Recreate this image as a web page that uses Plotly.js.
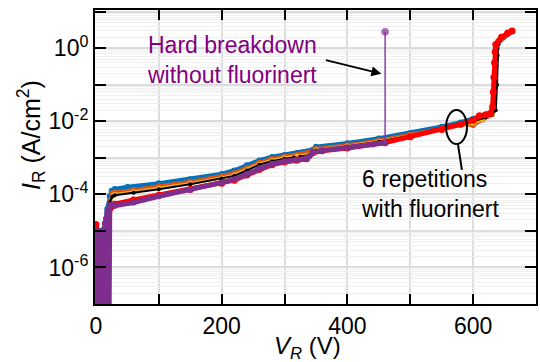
<!DOCTYPE html>
<html>
<head>
<meta charset="utf-8">
<script src="https://cdn.plot.ly/plotly-3.0.1.min.js"></script>
<style>html,body{margin:0;padding:0;background:#fff;}#chart{width:540px;height:362px;}</style>
</head>
<body>
<div id="chart"></div>
<script>
// Reverse voltage (V) and reverse current density (A/cm^2) for each repetition
const blueV = [0,3,6,9,12,14,18,22,25,30,50,100,150,200,220,240,260,280,300,320,340,345,350,400,450,500,550,580,600,615,625,632,634,636,637,640,655,660];
const blueI = [5e-6,2.5e-6,6e-6,3e-6,8e-6,1.1e-5,4e-5,9e-5,1.25e-4,1.4e-4,1.6e-4,2e-4,2.6e-4,3.6e-4,4.5e-4,6.3e-4,8.5e-4,1.05e-3,1.2e-3,1.35e-3,1.5e-3,1.66e-3,2e-3,2.5e-3,3.4e-3,4.8e-3,7.1e-3,9.3e-3,1.17e-2,1.4e-2,1.6e-2,2e-2,0.1,0.5,1,1.4,2.5,2.8];

const orangeV = [0,3,6,9,10,12,13,15,18,22,26,30,60,100,150,200,220,240,260,280,300,320,340,345,350,400,450,500,550,580,600,615,625,630,633,635,637,640,655,661];
const orangeI = [3.2e-6,1e-6,5e-6,1.6e-7,1e-5,5e-8,4e-6,5e-8,2e-5,6e-5,1.05e-4,1.12e-4,1.32e-4,1.66e-4,2.2e-4,3.2e-4,3.8e-4,5.2e-4,7.4e-4,9.3e-4,1.07e-3,1.2e-3,1.38e-3,1.51e-3,1.74e-3,2.2e-3,3e-3,4.3e-3,6.3e-3,8.3e-3,7.9e-3,1.12e-2,1.41e-2,1.58e-2,6.3e-2,0.32,1.0,1.58,2.6,2.95];

const yellowV = [0,3,6,9,11,12,14,16,17,19,23,27,30,60,100,150,200,220,240,260,280,300,320,340,345,350,400,450,500,550,580,600,615,625,631,634,636,638,645,655,662];
const yellowI = [1.6e-6,2.5e-7,4e-6,1e-6,5e-8,2.5e-6,3.2e-7,8e-6,5e-8,2e-5,5.6e-5,9.5e-5,1e-4,1.17e-4,1.48e-4,2e-4,2.8e-4,3.4e-4,4.7e-4,6.8e-4,8.5e-4,1e-3,1.12e-3,1.26e-3,1.45e-3,1.66e-3,2.1e-3,2.8e-3,4e-3,6e-3,7.9e-3,8.9e-3,1.12e-2,1.41e-2,1.58e-2,0.1,0.5,1.12,1.78,2.5,2.95];

const blackV = [0,2,4,6,8,10,12,15,18,22,26,30,60,100,150,200,220,240,260,280,300,315,318,325,340,345,350,400,450,500,550,580,600,620,630,636,638,639,640,650,660];
const blackI = [1.4e-5,1.2e-5,1.6e-6,4e-6,8e-7,2.5e-6,8e-6,1.2e-5,3e-5,6e-5,8.7e-5,9.5e-5,1.1e-4,1.38e-4,1.9e-4,2.7e-4,3.2e-4,4.5e-4,6.5e-4,8.1e-4,9.5e-4,1.02e-3,7.9e-4,1.07e-3,1.2e-3,1.41e-3,1.58e-3,2e-3,2.75e-3,4e-3,5.9e-3,7.9e-3,1e-2,1.26e-2,1.51e-2,2e-2,0.1,0.63,1.26,2.2,2.8];

const redV = [0,2,4,6,8,10,12,14,16,18,20,24,28,30,60,100,150,200,220,240,260,280,300,320,335,345,360,400,460,500,550,580,600,610,620,628,631,632,633,634,635,636,645,655,662];
const redI = [1.5e-5,3.2e-6,6.3e-7,2.5e-6,3.2e-7,1.6e-6,1e-6,6.3e-6,5e-7,1e-5,2.5e-5,4.5e-5,5e-5,5.4e-5,7e-5,9.5e-5,1.35e-4,2e-4,2.45e-4,3.4e-4,4.9e-4,6.5e-4,7.7e-4,8.7e-4,9.4e-4,1.38e-3,1.55e-3,1.85e-3,2.6e-3,3.8e-3,6e-3,8.3e-3,1.07e-2,1.41e-2,1.51e-2,1.66e-2,2.5e-2,6.3e-2,0.16,0.4,0.8,1.26,2.0,2.6,2.95];

const purpleV = [0,1,2,3,4,5,6,7,8,9,10,11,12,13,14,15,16,17,18,19,20,21,22,24,27,30,60,100,150,200,220,240,260,280,300,320,335,340,345,360,400,440,460];
const purpleI = [1e-5,6.3e-8,7.9e-6,1.26e-7,1e-5,6.3e-8,6.3e-6,1.6e-7,1e-5,6.3e-8,7.9e-6,1.26e-7,1.1e-5,6.3e-8,1.6e-5,7.9e-8,2.2e-5,6.3e-8,3.2e-5,1e-7,4e-5,6.3e-8,5e-5,5.2e-5,5.2e-5,4.9e-5,6e-5,8.9e-5,1.32e-4,2.1e-4,2.6e-4,3.6e-4,5.2e-4,6.8e-4,7.9e-4,8.9e-4,9.8e-4,1.12e-3,1.41e-3,1.58e-3,1.9e-3,2.3e-3,2.6e-3];

// Hard breakdown without fluorinert
const breakdownV = [460, 460];
const breakdownI = [2.6e-3, 2.8];

const xTickVals = [0,200,400,600];
const xTickText = ['0','200','400','600'];
const yTickVals = [1e-6,1e-4,1e-2,1];
const yTickText = ['10<sup>-6</sup>','10<sup>-4</sup>','10<sup>-2</sup>','10<sup>0</sup>'];
const yOddDecades = [1e-7,1e-5,1e-3,1e-1,10];

const minorVals = [];
for (let e = -7; e <= 1; e++) {
  for (let m = 2; m <= 9; m++) minorVals.push(m * Math.pow(10, e));
}

function series(x, y, color, w, s) {
  return {
    x: x, y: y, type: 'scatter', mode: 'lines+markers',
    line: {color: color, width: w},
    marker: {color: color, size: s},
    hoverinfo: 'skip', showlegend: false
  };
}

const traces = [
  series(blueV, blueI, '#0072BD', 4.5, 6),
  series(orangeV, orangeI, '#D95319', 4, 6),
  series(yellowV, yellowI, '#EDB120', 3, 5),
  series(blackV, blackI, '#000000', 2, 4),
  series(redV, redI, '#FF0000', 5, 7),
  series(purpleV, purpleI, '#7E2F8E', 5, 6),
  {
    x: breakdownV, y: breakdownI, type: 'scatter', mode: 'lines+markers',
    line: {color: '#8A3FA8', width: 1.5},
    marker: {color: '#7E2F8E', size: [0, 7]},
    showlegend: false, hoverinfo: 'skip'
  },
  {
    x: [], y: [], yaxis: 'y2', type: 'scatter', showlegend: false, hoverinfo: 'skip'
  }
];

const font = 'Arial, "Liberation Sans", Helvetica, sans-serif';

const layout = {
  width: 540, height: 362,
  margin: {l: 95, r: 4, t: 10, b: 58},
  paper_bgcolor: '#ffffff', plot_bgcolor: '#ffffff',
  font: {family: font, size: 22, color: '#000'},
  showlegend: false,
  xaxis: {
    range: [-1.5, 700],
    tickmode: 'array', tickvals: xTickVals, ticktext: xTickText,
    ticks: 'inside', ticklen: 10, tickwidth: 2, tickcolor: '#000',
    showline: true, linecolor: '#000', linewidth: 2, mirror: 'ticks',
    showgrid: true, gridcolor: '#dcdcdc', gridwidth: 2,
    minor: {dtick: 100, tick0: 0, ticks: 'inside', ticklen: 10, tickwidth: 2, tickcolor: '#000',
            showgrid: true, gridcolor: '#dcdcdc', gridwidth: 2},
    zeroline: false,
    tickfont: {family: font, size: 23, color: '#000'}
  },
  yaxis: {
    type: 'log', range: [-7, 1.045],
    tickmode: 'array', tickvals: yTickVals, ticktext: yTickText,
    ticks: 'inside', ticklen: 11, tickwidth: 2, tickcolor: '#000',
    showline: true, linecolor: '#000', linewidth: 2, mirror: 'ticks',
    showgrid: true, gridcolor: '#dcdcdc', gridwidth: 2,
    zeroline: false,
    tickfont: {family: font, size: 23, color: '#000'},
    minor: {tickvals: yOddDecades, ticks: 'inside', ticklen: 11, tickwidth: 2, tickcolor: '#000',
            showgrid: true, gridcolor: '#dcdcdc', gridwidth: 2}
  },
  yaxis2: {
    type: 'log', range: [-7, 1.045], overlaying: 'y', side: 'left',
    tickmode: 'array', tickvals: minorVals, showticklabels: false, ticks: '',
    showgrid: true, gridcolor: '#efefef', gridwidth: 1, showline: false, zeroline: false,
    layer: 'below traces'
  },
  annotations: [
    {
      xref: 'paper', yref: 'paper', x: -0.145, y: 0.575, xanchor: 'center', yanchor: 'middle',
      text: '<i>I</i><sub>R</sub> (A/cm<sup>2</sup>)', textangle: -90,
      showarrow: false, font: {family: font, size: 25, color: '#000'}
    },
    {
      xref: 'paper', yref: 'paper', x: 0.481, y: -0.148, xanchor: 'center', yanchor: 'middle',
      text: '<i>V</i><sub><i>R</i></sub> (V)',
      showarrow: false, font: {family: font, size: 24, color: '#000'}
    },
    {
      xref: 'x', yref: 'y', x: 217, y: -0.32,
      text: 'Hard breakdown<br>without fluorinert', showarrow: false,
      font: {family: font, size: 23, color: '#800080'}
    },
    {
      xref: 'x', yref: 'y', x: 454, y: -0.70, ax: -57, ay: -14,
      text: '', showarrow: true, arrowhead: 2, arrowsize: 1, arrowwidth: 2, arrowcolor: '#000'
    },
    {
      xref: 'x', yref: 'y', x: 419, y: -4.0, xanchor: 'left', align: 'left',
      text: '6 repetitions<br>with fluorinert', showarrow: false,
      font: {family: font, size: 23, color: '#000'}
    }
  ],
  shapes: [
    {type: 'circle', xref: 'paper', yref: 'paper', x0: 0.796, x1: 0.8435, y0: 0.544, y1: 0.660,
     line: {color: '#000', width: 2}},
    {type: 'line', xref: 'paper', yref: 'paper', x0: 0.823, x1: 0.832, y0: 0.544, y1: 0.456,
     line: {color: '#000', width: 2}}
  ]
};

Plotly.newPlot('chart', traces, layout, {staticPlot: true, displayModeBar: false});
</script>
</body>
</html>
